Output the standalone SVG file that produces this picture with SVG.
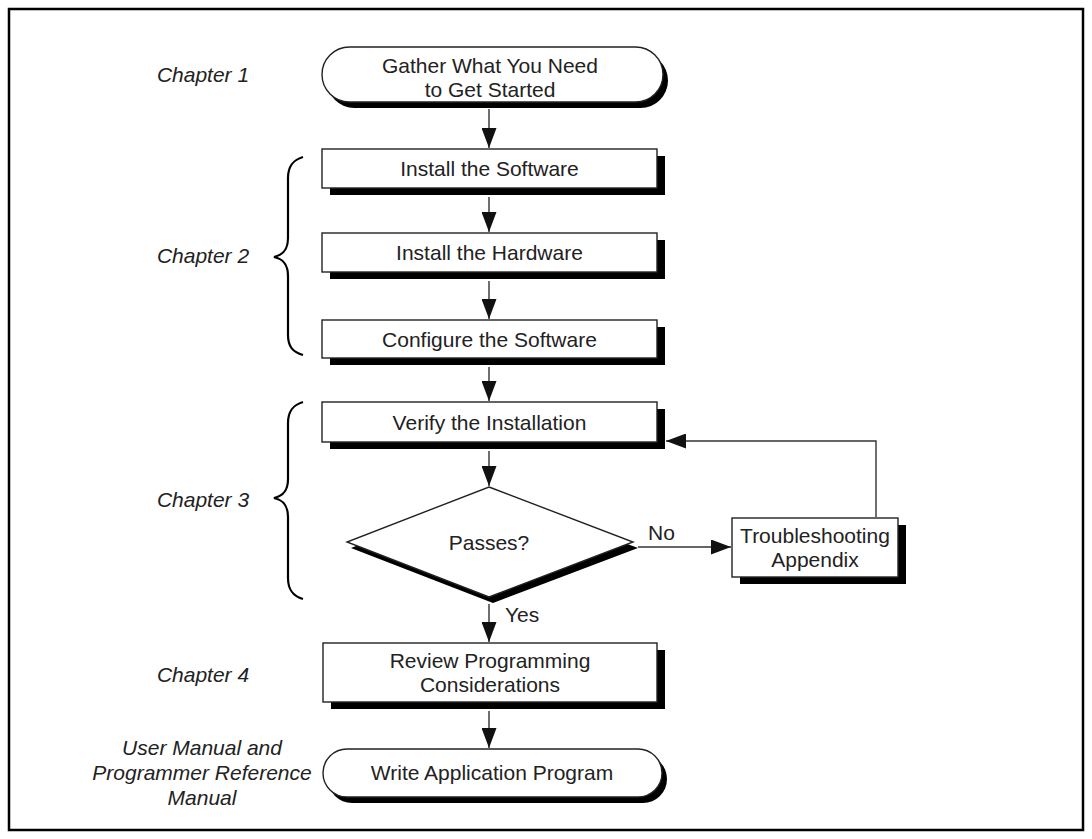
<svg xmlns="http://www.w3.org/2000/svg" width="1092" height="839" viewBox="0 0 1092 839">
<style>
.t{font-family:"Liberation Sans",Arial,sans-serif;font-size:21px;fill:#222;text-anchor:middle}
.ch{font-family:"Liberation Sans",Arial,sans-serif;font-size:21px;fill:#222;font-style:italic;text-anchor:middle}
.lbl{font-family:"Liberation Sans",Arial,sans-serif;font-size:21px;fill:#222}
.box{fill:#fff;stroke:#222;stroke-width:1.4}
.sh{fill:#000}
.ln{fill:none;stroke:#333;stroke-width:1.4}
.br{fill:none;stroke:#000;stroke-width:2.2}
</style>
<defs>
<marker id="ah" markerUnits="userSpaceOnUse" markerWidth="20" markerHeight="15" refX="20" refY="7.5" orient="auto" viewBox="0 0 20 15">
<path d="M0,0 L20,7.5 L0,15 Z" fill="#111"/>
</marker>
</defs>
<rect x="9" y="9" width="1074" height="821" fill="#fff" stroke="#000" stroke-width="2.5"/>
<g id="labels">
<text class="ch" x="203" y="82">Chapter 1</text>
<text class="ch" x="203" y="263">Chapter 2</text>
<text class="ch" x="203" y="507">Chapter 3</text>
<text class="ch" x="203" y="682">Chapter 4</text>
<text class="ch" x="202" y="755">User Manual and</text>
<text class="ch" x="202" y="780">Programmer Reference</text>
<text class="ch" x="202" y="805">Manual</text>
</g>
<g id="braces">
<path class="br" d="M303,157 C293,160 288,166 288,178 L288,238 C288,250 283,255 274,257 C283,259 288,264 288,276 L288,335 C288,347 293,352 303,355"/>
<path class="br" d="M303,402 C293,405 288,411 288,423 L288,479 C288,491 283,496 274,498 C283,500 288,505 288,517 L288,578 C288,590 293,596 303,599"/>
</g>
<g id="n1">
<rect class="sh" x="327" y="53" width="341" height="55" rx="27.5"/>
<rect class="box" x="322" y="47" width="341" height="55" rx="27.5"/>
<text class="t" x="490" y="73">Gather What You Need</text>
<text class="t" x="490" y="97">to Get Started</text>
</g>
<g id="n2">
<rect class="sh" x="330" y="156" width="335" height="39"/>
<rect class="box" x="322" y="149" width="335" height="39"/>
<text class="t" x="489.5" y="176">Install the Software</text>
</g>
<g id="n3">
<rect class="sh" x="330" y="240" width="335" height="39"/>
<rect class="box" x="322" y="233" width="335" height="39"/>
<text class="t" x="489.5" y="260">Install the Hardware</text>
</g>
<g id="n4">
<rect class="sh" x="330" y="327" width="335" height="38"/>
<rect class="box" x="322" y="320" width="335" height="38"/>
<text class="t" x="489.5" y="347">Configure the Software</text>
</g>
<g id="n5">
<rect class="sh" x="330" y="409" width="335" height="40"/>
<rect class="box" x="322" y="402" width="335" height="40"/>
<text class="t" x="489.5" y="430">Verify the Installation</text>
</g>
<g id="n6">
<polygon class="sh" points="493,493 638,548 493,603 351,548"/>
<polygon class="box" points="489,487 633,542 489,597 347,542"/>
<text class="t" x="489" y="550">Passes?</text>
</g>
<g id="n7">
<rect class="sh" x="740" y="525" width="166" height="59"/>
<rect class="box" x="732" y="518" width="166" height="59"/>
<text class="t" x="815" y="543">Troubleshooting</text>
<text class="t" x="815" y="567">Appendix</text>
</g>
<g id="n8">
<rect class="sh" x="331" y="650" width="334" height="59"/>
<rect class="box" x="323" y="643" width="334" height="59"/>
<text class="t" x="490" y="668">Review Programming</text>
<text class="t" x="490" y="692">Considerations</text>
</g>
<g id="n9">
<rect class="sh" x="328" y="755" width="339" height="48" rx="24"/>
<rect class="box" x="323" y="749" width="339" height="48" rx="24"/>
<text class="t" x="492" y="780">Write Application Program</text>
</g>
<g id="connectors">
<line class="ln" x1="489" y1="109" x2="489" y2="148" marker-end="url(#ah)"/>
<line class="ln" x1="489" y1="197" x2="489" y2="232" marker-end="url(#ah)"/>
<line class="ln" x1="489" y1="281" x2="489" y2="319" marker-end="url(#ah)"/>
<line class="ln" x1="489" y1="367" x2="489" y2="401" marker-end="url(#ah)"/>
<line class="ln" x1="489" y1="451" x2="489" y2="486" marker-end="url(#ah)"/>
<line class="ln" x1="638" y1="547" x2="731" y2="547" marker-end="url(#ah)"/>
<polyline class="ln" points="876,517 876,441 666,441" marker-end="url(#ah)"/>
<line class="ln" x1="489" y1="604" x2="489" y2="642" marker-end="url(#ah)"/>
<line class="ln" x1="489" y1="711" x2="489" y2="748" marker-end="url(#ah)"/>
<text class="lbl" x="648" y="540">No</text>
<text class="lbl" x="505" y="622">Yes</text>
</g>
</svg>
